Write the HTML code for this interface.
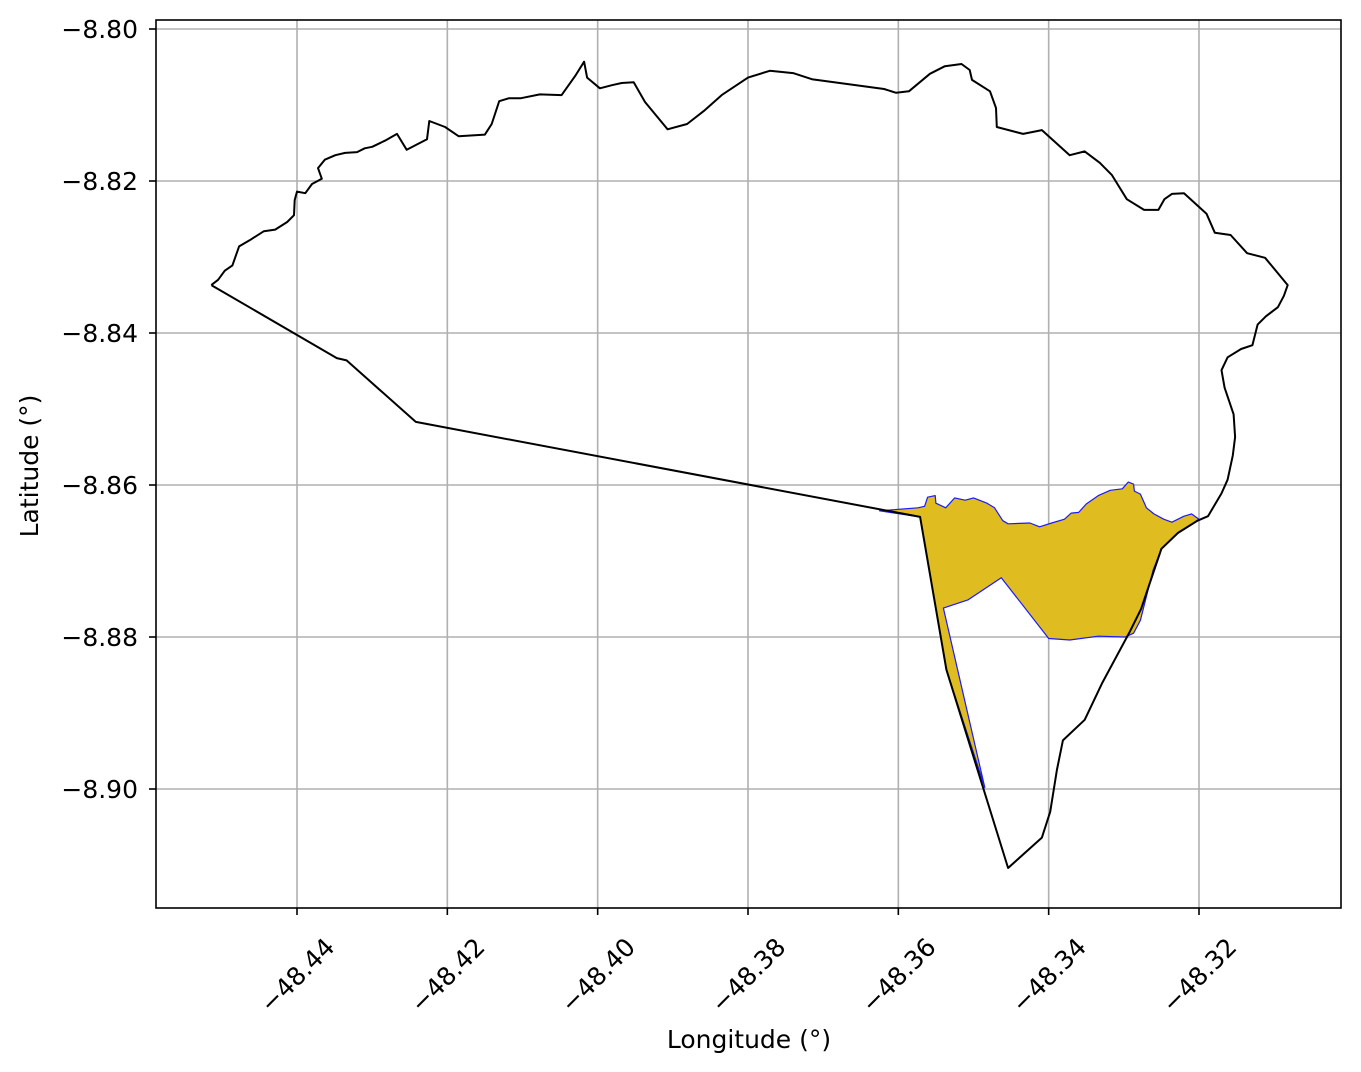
<!DOCTYPE html>
<html><head><meta charset="utf-8"><style>
body{margin:0;background:#fff;}
svg{display:block;font-family:"DejaVu Sans","Liberation Sans",sans-serif;}
</style></head><body>
<svg id="chart" width="1361" height="1072" viewBox="0 0 1361 1072"></svg>
<script>
const xTicks=[-48.44,-48.42,-48.40,-48.38,-48.36,-48.34,-48.32];
const xTickLabels=["−48.44","−48.42","−48.40","−48.38","−48.36","−48.34","−48.32"];
const yTicks=[-8.80,-8.82,-8.84,-8.86,-8.88,-8.90];
const yTickLabels=["−8.80","−8.82","−8.84","−8.86","−8.88","−8.90"];
const outlineLon=[-48.4514,-48.4505,-48.4496,-48.4486,-48.4477,-48.4463,-48.4444,-48.4429,-48.4413,-48.4404,-48.4403,-48.44,-48.4389,-48.4380,-48.4367,-48.4372,-48.4363,-48.4349,-48.4336,-48.4320,-48.4310,-48.4300,-48.4283,-48.4267,-48.4254,-48.4227,-48.4224,-48.4203,-48.4185,-48.4150,-48.4141,-48.4131,-48.4118,-48.4102,-48.4077,-48.4048,-48.4030,-48.4018,-48.4014,-48.3997,-48.3981,-48.3968,-48.3952,-48.3937,-48.3907,-48.3881,-48.3859,-48.3835,-48.3800,-48.3771,-48.3740,-48.3715,-48.3619,-48.3603,-48.3586,-48.3558,-48.3538,-48.3516,-48.3505,-48.3502,-48.3478,-48.3470,-48.3469,-48.3434,-48.3409,-48.3372,-48.3352,-48.3332,-48.3316,-48.3296,-48.3273,-48.3254,-48.3246,-48.3236,-48.3220,-48.3190,-48.3179,-48.3158,-48.3136,-48.3112,-48.3082,-48.3087,-48.3095,-48.3111,-48.3122,-48.3129,-48.3144,-48.3162,-48.3170,-48.3166,-48.3154,-48.3152,-48.3155,-48.3162,-48.3170,-48.3188,-48.3202,-48.3228,-48.3250,-48.3277,-48.3292,-48.3329,-48.3352,-48.3381,-48.3389,-48.3398,-48.3409,-48.3454,-48.3536,-48.3571,-48.4242,-48.4334,-48.4347,-48.4514];
const outlineLat=[-8.8337,-8.8330,-8.8318,-8.8311,-8.8286,-8.8278,-8.8266,-8.8264,-8.8254,-8.8245,-8.8225,-8.8214,-8.8216,-8.8204,-8.8197,-8.8183,-8.8172,-8.8166,-8.8163,-8.8162,-8.8157,-8.8155,-8.8147,-8.8138,-8.8159,-8.8145,-8.8121,-8.8129,-8.8141,-8.8139,-8.8125,-8.8095,-8.8091,-8.8091,-8.8086,-8.8087,-8.8062,-8.8043,-8.8064,-8.8078,-8.8074,-8.8071,-8.8070,-8.8096,-8.8132,-8.8125,-8.8108,-8.8087,-8.8064,-8.8055,-8.8058,-8.8066,-8.8079,-8.8084,-8.8082,-8.8059,-8.8049,-8.8046,-8.8054,-8.8067,-8.8082,-8.8104,-8.8129,-8.8138,-8.8133,-8.8166,-8.8161,-8.8176,-8.8192,-8.8224,-8.8238,-8.8238,-8.8224,-8.8217,-8.8216,-8.8243,-8.8268,-8.8271,-8.8295,-8.8301,-8.8337,-8.8351,-8.8366,-8.8378,-8.8389,-8.8416,-8.8421,-8.8432,-8.8449,-8.8472,-8.8507,-8.8537,-8.8561,-8.8593,-8.8611,-8.8641,-8.8647,-8.8663,-8.8684,-8.8763,-8.8793,-8.8861,-8.8909,-8.8936,-8.8975,-8.9030,-8.9064,-8.9104,-8.8843,-8.8642,-8.8517,-8.8436,-8.8433,-8.8337];
const regionLon=[-48.3625,-48.3574,-48.3565,-48.3561,-48.3551,-48.3550,-48.3537,-48.3525,-48.3511,-48.3500,-48.3482,-48.3472,-48.3461,-48.3454,-48.3425,-48.3412,-48.3396,-48.3379,-48.3370,-48.3360,-48.3350,-48.3334,-48.3318,-48.3302,-48.3294,-48.3287,-48.3286,-48.3278,-48.3270,-48.3260,-48.3247,-48.3236,-48.3220,-48.3210,-48.3200,-48.3228,-48.3250,-48.3261,-48.3278,-48.3287,-48.3298,-48.3334,-48.3372,-48.3400,-48.3463,-48.3507,-48.3540,-48.3485,-48.3536,-48.3571];
const regionLat=[-8.8634,-8.8630,-8.8628,-8.8616,-8.8614,-8.8624,-8.8630,-8.8617,-8.8620,-8.8617,-8.8624,-8.8630,-8.8647,-8.8651,-8.8650,-8.8655,-8.8650,-8.8645,-8.8637,-8.8636,-8.8625,-8.8614,-8.8607,-8.8605,-8.8596,-8.8599,-8.8608,-8.8612,-8.8630,-8.8638,-8.8645,-8.8649,-8.8641,-8.8638,-8.8645,-8.8663,-8.8684,-8.8712,-8.8778,-8.8795,-8.8800,-8.8799,-8.8804,-8.8802,-8.8722,-8.8751,-8.8762,-8.8998,-8.8843,-8.8642];

const NS="http://www.w3.org/2000/svg";
const svg=document.getElementById('chart');
const L=156,R=1341,T=20,B=908;
function xs(v){return 297+(v-(-48.44))/0.12*902;}
function ys(v){return 29+(-8.80-v)/0.1*760;}
function mk(tag,attrs,parent){const e=document.createElementNS(NS,tag);for(const k in attrs)e.setAttribute(k,attrs[k]);(parent||svg).appendChild(e);return e;}

xTicks.forEach((t,i)=>{
  const g=mk('line',{x1:xs(t),x2:xs(t),y1:T,y2:B,stroke:'#b0b0b0','stroke-width':1.6});
  
  
});
yTicks.forEach((t,i)=>{
  const g=mk('line',{x1:L,x2:R,y1:ys(t),y2:ys(t),stroke:'#b0b0b0','stroke-width':1.6});
  
  
});

let rp=regionLon.map((v,i)=>xs(v).toFixed(1)+','+ys(regionLat[i]).toFixed(1)).join(' ');
const reg=mk('polygon',{points:rp,fill:'#dfbc1f',stroke:'#1a1aff','stroke-width':1.2,'stroke-linejoin':'round'});



let op=outlineLon.map((v,i)=>xs(v).toFixed(1)+','+ys(outlineLat[i]).toFixed(1)).join(' ');
const out=mk('polyline',{points:op,fill:'none',stroke:'#000','stroke-width':2,'stroke-linejoin':'round'});



const fr=mk('rect',{x:L,y:T,width:R-L,height:B-T,fill:'none',stroke:'#000','stroke-width':1.6});



xTicks.forEach((t,i)=>{
  const x=xs(t);
  const tk=mk('line',{x1:x,x2:x,y1:B,y2:B+7,stroke:'#000','stroke-width':1.6});
  
  
  const cx=x,cy=975;
  const tx=mk('text',{x:cx,y:cy+9,'text-anchor':'middle','font-size':25,fill:'#000',transform:`rotate(-45 ${cx} ${cy})`});
  tx.textContent=xTickLabels[i];
  
  
});
yTicks.forEach((t,i)=>{
  const y=ys(t);
  const tk=mk('line',{x1:L-7,x2:L,y1:y,y2:y,stroke:'#000','stroke-width':1.6});
  
  
  const tx=mk('text',{x:L-18,y:y+9,'text-anchor':'end','font-size':25,fill:'#000'});
  tx.textContent=yTickLabels[i];
  
  
});

const xt=mk('text',{x:749,y:1048,'text-anchor':'middle','font-size':25,fill:'#000'});
xt.textContent='Longitude (°)';


const yt=mk('text',{x:38,y:466,'text-anchor':'middle','font-size':25,fill:'#000',transform:'rotate(-90 38 466)'});
yt.textContent='Latitude (°)';


</script>
</body></html>
